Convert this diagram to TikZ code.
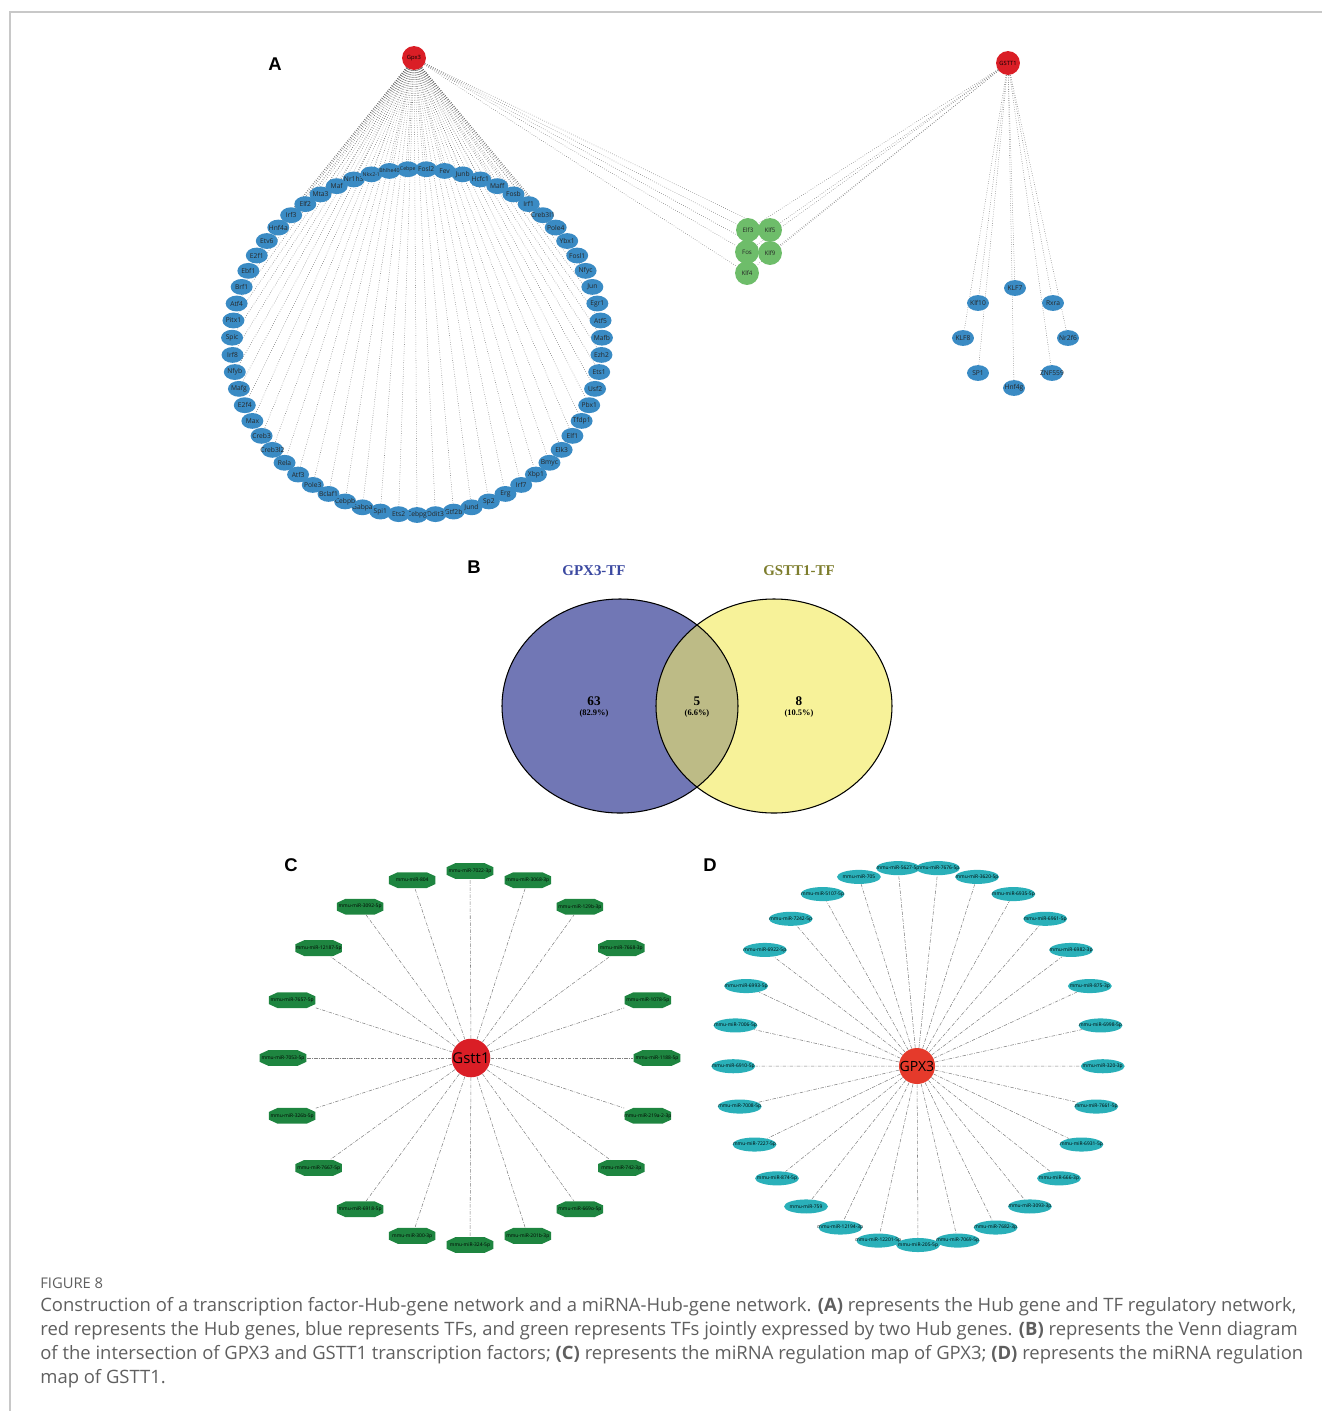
\documentclass[tikz,border=0pt]{standalone}
\usepackage{fontspec}
\setsansfont{Open Sans}
\newfontfamily\panelfont{Liberation Sans}
\newfontfamily\vennfont{Liberation Serif}
\usetikzlibrary{shapes.geometric,backgrounds}
\definecolor{hubred}{RGB}{218,30,38}
\definecolor{hubredD}{RGB}{229,58,43}
\definecolor{tfblue}{RGB}{58,139,196}
\definecolor{tfgreen}{RGB}{110,189,106}
\definecolor{mirgreen}{RGB}{30,133,64}
\definecolor{mircyan}{RGB}{42,176,185}
\definecolor{vennblue}{RGB}{113,119,181}
\definecolor{vennyellow}{RGB}{247,242,153}
\definecolor{vennmix}{RGB}{189,187,134}
\definecolor{framegray}{RGB}{200,200,200}
\definecolor{captiongray}{RGB}{95,95,95}
\newcommand{\smalltf}[1]{{\fontsize{3}{3}\selectfont #1}}
\newcommand{\octpath}[2]{% chamfer x, chamfer y
    \fill[mirgreen] ([xshift=#1]path picture bounding box.north west)
        -- ([xshift=-#1]path picture bounding box.north east)
        -- ([yshift=-#2]path picture bounding box.north east)
        -- ([yshift=#2]path picture bounding box.south east)
        -- ([xshift=-#1]path picture bounding box.south east)
        -- ([xshift=#1]path picture bounding box.south west)
        -- ([yshift=#2]path picture bounding box.south west)
        -- ([yshift=-#2]path picture bounding box.north west) -- cycle;}
\tikzset{
  hubA/.style={circle, fill=hubred, inner sep=0pt, minimum size=13.6pt,
    font=\sffamily\fontsize{3.3}{3.5}\selectfont},
  tfnode/.style={ellipse, fill=tfblue, inner sep=0pt, minimum width=12.5pt,
    minimum height=9pt, text=black!85, font=\sffamily\fontsize{3.8}{4}\selectfont},
  tfboth/.style={circle, fill=tfgreen, inner sep=0pt, minimum size=13.6pt,
    text=black!85, font=\sffamily\fontsize{3.5}{4}\selectfont},
  tfedge/.style={draw=black!60, densely dotted, line width=0.3pt},
  hubC/.style={circle, fill=hubred, inner sep=0pt, minimum size=20.5pt,
    font=\sffamily\fontsize{8.5}{9}\selectfont},
  hubD/.style={circle, fill=hubredD, inner sep=0pt, minimum size=20.5pt,
    font=\sffamily\fontsize{8}{9}\selectfont},
  mirC/.style={rectangle, inner sep=0pt, minimum width=26.5pt, minimum height=9pt,
    path picture={\octpath{5pt}{2.3pt}}, font=\sffamily\fontsize{2.8}{3}\selectfont},
  mirD/.style={ellipse, fill=mircyan, inner sep=0pt, minimum width=25pt,
    minimum height=8pt, font=\sffamily\fontsize{2.8}{3}\selectfont},
  miredge/.style={draw=black!50, dash pattern=on 2pt off 0.8pt on 0.4pt off 0.8pt,
    line width=0.3pt},
  panel/.style={font=\panelfont\bfseries\fontsize{10.5}{12}\selectfont},
  venntitle/.style={font=\vennfont\bfseries\fontsize{8.5}{10}\selectfont},
  vennnum/.style={font=\vennfont\bfseries\fontsize{7.5}{8}\selectfont},
  vennpct/.style={font=\vennfont\bfseries\fontsize{4.8}{5}\selectfont},
  captiontext/.style={anchor=west, inner sep=0pt, text=captiongray,
    font=\sffamily\fontsize{10.5}{12}\selectfont},
}
\begin{document}
\begin{tikzpicture}[x=0.02cm, y=-0.02cm]
    \useasboundingbox (0,0) rectangle (1322,1411);
    % Draw frame
    \draw[framegray, line width=0.9pt] (10,1411) -- (10,12) -- (1322,12);

    % Panel A: hub genes
    \node[panel] (labA) at (275,64) {A};
    \node[hubA] (gpx) at (414,58) {Gpx3};
    \node[hubA] (gstt) at (1008,63) {GSTT1};

    % TFs of Gpx3 only
    \foreach \lab [count=\k] in {\smalltf{Cebpe}, Fosl2, Fev, Junb, Hcfc1, Maff, Fosb,
        Irf1, Creb3l1, Pole4, Ybx1, Fosl1, Nfyc, Jun, Egr1, Atf5, Mafb, Ezh2,
        Ets1, Usf2, Pbx1, Tfdp1, Elf1, Elk3, Bmyc, Xbp1, Irf7, Erg, Sp2, Jund,
        Gtf2b, Ddit3, Cebpg, Ets2, Spi1, Gabpa, Cebpb, Bclaf1, Pole3, Atf3,
        Rela, Creb3l2, Creb3, Max, E2f4, Mafg, Nfyb, Irf8, Spic, Pitx1, Atf4,
        Brf1, Ebf1, E2f1, Etv6, Hnf4a, Irf3, Elf2, Mta3, Maf, Nr1h3, \smalltf{Nkx2-1},
        \smalltf{Bhlhe40}} {
        \pgfmathsetmacro{\a}{92.857-(\k-1)*5.7143}
        \node[tfnode] (tf\k) at ({417+185*cos(\a)},{342-173*sin(\a)}) {\makebox[0pt]{\lab}};
    }

    % TFs shared by both hubs
    \node[tfboth] (elf3) at (748,230) {Elf3};
    \node[tfboth] (klf5) at (770,230) {Klf5};
    \node[tfboth] (fos) at (747,252) {Fos};
    \node[tfboth] (klf9) at (770,253) {Klf9};
    \node[tfboth] (klf4) at (747,273) {Klf4};

    % TFs of GSTT1 only
    \node[tfnode] (klf7) at (1015,288) {\makebox[0pt]{KLF7}};
    \node[tfnode] (klf10) at (978,303) {\makebox[0pt]{Klf10}};
    \node[tfnode] (rxra) at (1053,303) {\makebox[0pt]{Rxra}};
    \node[tfnode] (klf8) at (963,338) {\makebox[0pt]{KLF8}};
    \node[tfnode] (nr2f6) at (1068,338) {\makebox[0pt]{Nr2f6}};
    \node[tfnode] (sp1) at (978,373) {\makebox[0pt]{SP1}};
    \node[tfnode] (znf559) at (1052,373) {\makebox[0pt]{ZNF559}};
    \node[tfnode] (hnf4g) at (1014,388) {\makebox[0pt]{Hnf4g}};

    \begin{scope}[on background layer]
        \foreach \k in {1,...,63} \draw[tfedge] (gpx) -- (tf\k);
        \foreach \g in {elf3,klf5,fos,klf9,klf4} {
            \draw[tfedge] (gpx) -- (\g);
            \draw[tfedge] (gstt) -- (\g);
        }
        \foreach \t in {klf7,klf10,rxra,klf8,nr2f6,sp1,znf559,hnf4g}
            \draw[tfedge] (gstt) -- (\t);
    \end{scope}

    % Panel B: Venn diagram
    \node[panel] (labB) at (474,567) {B};
    \fill[vennblue] (620,706) circle [x radius=118, y radius=107];
    \fill[vennyellow] (774,706) circle [x radius=118, y radius=107];
    \begin{scope}
        \clip (620,706) circle [x radius=118, y radius=107];
        \fill[vennmix] (774,706) circle [x radius=118, y radius=107];
    \end{scope}
    \draw[line width=0.6pt] (620,706) circle [x radius=118, y radius=107];
    \draw[line width=0.6pt] (774,706) circle [x radius=118, y radius=107];
    \node[venntitle, text={rgb,255:red,58;green,72;blue,160}] (titleG) at (594,571) {GPX3-TF};
    \node[venntitle, text={rgb,255:red,125;green,125;blue,45}] (titleS) at (799,571) {GSTT1-TF};
    \node[vennnum] (numL) at (594,701) {63};
    \node[vennpct] (pctL) at (594,713) {(82.9\%)};
    \node[vennnum] (numM) at (697,701) {5};
    \node[vennpct] (pctM) at (697,713) {(6.6\%)};
    \node[vennnum] (numR) at (799,701) {8};
    \node[vennpct] (pctR) at (799,713) {(10.5\%)};

    % Panel C: miRNAs of Gstt1
    \node[panel] (labC) at (291,865) {C};
    \node[hubC] (gsttC) at (471,1058) {Gstt1};
    \foreach \lab [count=\k] in {7022-3p, 3068-3p, 129b-3p, 7668-3p, 1078-5p,
        1188-5p, 219a-2-3p, 742-3p, 669o-5p, 201b-3p, 324-5p, 300-3p, 6918-5p,
        7667-5p, 326b-5p, 7053-5p, 7657-5p, 12187-5p, 3092-5p, 804} {
        \pgfmathsetmacro{\a}{90-(\k-1)*18}
        \node[mirC] (mc\k) at ({470+187*cos(\a)},{1058-187*sin(\a)}) {\makebox[0pt]{mmu-miR-\lab}};
    }
    \begin{scope}[on background layer]
        \foreach \k in {1,...,20} \draw[miredge] (gsttC) -- (mc\k);
    \end{scope}

    % Panel D: miRNAs of GPX3
    \node[panel] (labD) at (710,865) {D};
    \node[hubD] (gpxD) at (917,1066) {GPX3};
    \foreach \lab [count=\k] in {205-5p, 7069-5p, 7682-3p, 3093-3p, 666-3p,
        6931-5p, 7661-5p, 320-3p, 6998-5p, 875-3p, 6982-3p, 6961-5p, 6935-5p,
        3620-5p, 7676-5p, 5627-5p, 705, 5107-5p, 7242-5p, 6922-5p, 6993-5p,
        7006-5p, 6910-5p, 7008-5p, 7227-5p, 874-5p, 759, 12194-3p, 12201-5p} {
        \pgfmathsetmacro{\a}{-90+(\k-1)*12.4138}
        \node[mirD] (md\k) at ({918+185*cos(\a)},{1056-189*sin(\a)}) {\makebox[0pt]{mmu-miR-\lab}};
    }
    \begin{scope}[on background layer]
        \foreach \k in {1,...,29} \draw[miredge] (gpxD) -- (md\k);
    \end{scope}

    % Caption
    \node[captiontext, font=\sffamily\fontsize{8.4}{10}\selectfont] (fighead) at (40,1283) {FIGURE 8};
    \node[captiontext] (cap1) at (40,1307) {Construction of a transcription factor-Hub-gene network and a miRNA-Hub-gene network. \textbf{(A)} represents the Hub gene and TF regulatory network,};
    \node[captiontext] (cap2) at (40,1331) {red represents the Hub genes, blue represents TFs, and green represents TFs jointly expressed by two Hub genes. \textbf{(B)} represents the Venn diagram};
    \node[captiontext] (cap3) at (40,1355) {of the intersection of GPX3 and GSTT1 transcription factors; \textbf{(C)} represents the miRNA regulation map of GPX3; \textbf{(D)} represents the miRNA regulation};
    \node[captiontext] (cap4) at (40,1379) {map of GSTT1.};
\end{tikzpicture}
\end{document}
